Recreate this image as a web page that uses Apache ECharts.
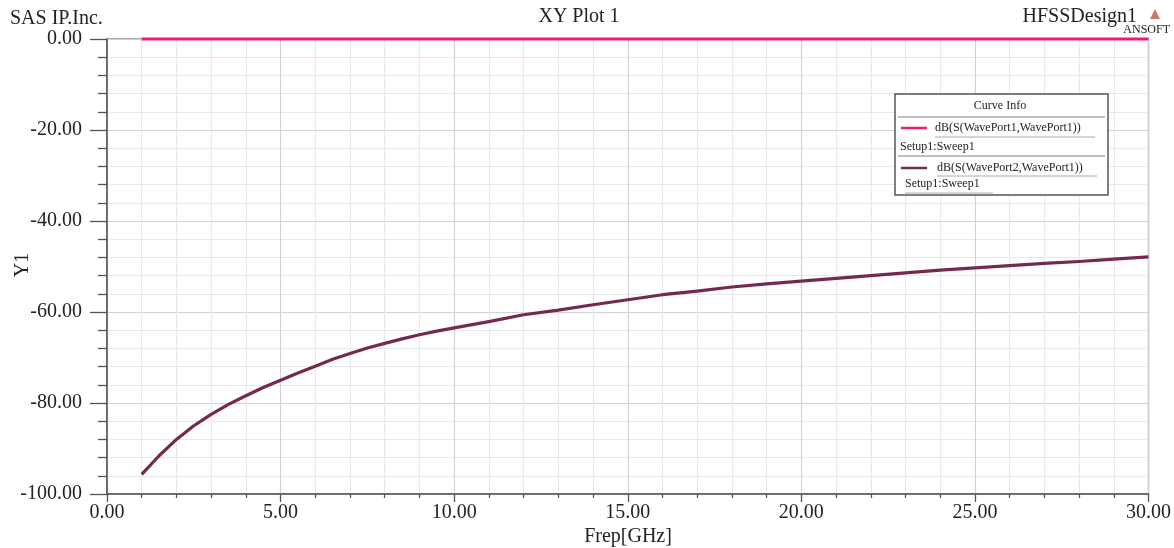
<!DOCTYPE html>
<html>
<head>
<meta charset="utf-8">
<script src="https://cdn.jsdelivr.net/npm/echarts@6/dist/echarts.min.js"></script>
<style>
html,body{margin:0;padding:0;background:#fff;}
#chart{width:1174px;height:548px;}
</style>
</head>
<body>
<div id="chart"></div>
<script>
// ---- data ----
const freqGHz = [1,1.5,2,2.5,3,3.5,4,4.5,5,5.5,6,6.5,7,7.5,8,8.5,9,9.5,10,11,12,13,14,15,16,17,18,19,20,21,22,23,24,25,26,27,28,29,30];
const s11dB = [0,0,0,0,0,0,0,0,0,0,0,0,0,0,0,0,0,0,0,0,0,0,0,0,0,0,0,0,0,0,0,0,0,0,0,0,0,0,0];
const s21dB = [-95.7,-91.6,-88.0,-85.0,-82.5,-80.3,-78.4,-76.6,-75.0,-73.4,-71.9,-70.4,-69.1,-67.9,-66.9,-65.9,-65.0,-64.2,-63.5,-62.1,-60.6,-59.6,-58.4,-57.3,-56.2,-55.4,-54.5,-53.8,-53.2,-52.6,-52.0,-51.4,-50.8,-50.3,-49.8,-49.3,-48.9,-48.4,-47.9];
const seriesNames = ['dB(S(WavePort1,WavePort1))','dB(S(WavePort2,WavePort1))'];
const setupLabel = 'Setup1:Sweep1';
const xTicks = {min:0, max:30, interval:5};
const yTicks = {min:-100, max:0, interval:20};

const C11 = '#ec1c72';
const C21 = '#75294f';
const serif = '"Liberation Serif","Times New Roman",serif';

const chart = echarts.init(document.getElementById('chart'));
const pairs = (xs, ys) => xs.map((x,i)=>[x, ys[i]]);

chart.setOption({
  backgroundColor:'#fff',
  animation:false,
  grid:{left:107, right:25, top:39, bottom:54, show:true, borderColor:'#555', borderWidth:1.2, backgroundColor:'transparent'},
  xAxis:{
    type:'value', min:xTicks.min, max:xTicks.max, interval:xTicks.interval,
    axisLine:{show:true, onZero:false, lineStyle:{color:'#555', width:1.5}},
    axisTick:{show:true, length:8, lineStyle:{color:'#555', width:1.3}},
    minorTick:{show:true, splitNumber:5, length:4, lineStyle:{color:'#555', width:1.3}},
    splitLine:{show:true, lineStyle:{color:'#d2d2d2', width:1.2}},
    minorSplitLine:{show:true, lineStyle:{color:'#e8e8e8', width:1}},
    axisLabel:{formatter:v=>v.toFixed(2), fontFamily:serif, fontSize:20, color:'#222', margin:9}
  },
  yAxis:{
    type:'value', min:yTicks.min, max:yTicks.max, interval:yTicks.interval,
    axisLine:{show:true, onZero:false, lineStyle:{color:'#555', width:1.5}},
    axisTick:{show:true, length:17, lineStyle:{color:'#555', width:1.3}},
    minorTick:{show:true, splitNumber:5, length:9, lineStyle:{color:'#555', width:1.3}},
    splitLine:{show:true, lineStyle:{color:'#d2d2d2', width:1.2}},
    minorSplitLine:{show:true, lineStyle:{color:'#e8e8e8', width:1}},
    axisLabel:{formatter:v=>v.toFixed(2), fontFamily:serif, fontSize:20, color:'#222', margin:25}
  },
  series:[
    {name:seriesNames[0], type:'line', data:pairs(freqGHz, s11dB), showSymbol:false, clip:false,
     lineStyle:{color:C11, width:3.2}, itemStyle:{color:C11}, z:5},
    {name:seriesNames[1], type:'line', data:pairs(freqGHz, s21dB), showSymbol:false, smooth:false,
     lineStyle:{color:C21, width:3.2, join:'round'}, itemStyle:{color:C21}, z:4}
  ],
  graphic:[
    {type:'text', left:10, top:9, style:{text:'SAS IP.Inc.', font:'20px '+serif, fill:'#222'}},
    {type:'text', x:579, y:17, style:{text:'XY Plot 1', font:'20px '+serif, fill:'#222', align:'center', verticalAlign:'middle'}},
    {type:'text', x:1137, y:17, style:{text:'HFSSDesign1', font:'20px '+serif, fill:'#222', align:'right', verticalAlign:'middle'}},
    {type:'text', x:1170, y:30, style:{text:'ANSOFT', font:'12px '+serif, fill:'#222', align:'right', verticalAlign:'middle'}},
    {type:'polygon', shape:{points:[[1155,9],[1150,19],[1160,19]]}, style:{fill:'#c8786f'}},
    {type:'text', x:628, y:537, style:{text:'Frep[GHz]', font:'20px '+serif, fill:'#222', align:'center', verticalAlign:'middle'}},
    {type:'text', x:23, y:265, rotation:Math.PI/2, style:{text:'Y1', font:'20px '+serif, fill:'#222', align:'center', verticalAlign:'middle'}},
    // legend box
    {type:'rect', shape:{x:895, y:94, width:213, height:101}, style:{fill:'#fff', stroke:'#555', lineWidth:1.5}, z:10},
    {type:'text', x:1000, y:106, style:{text:'Curve Info', font:'12px '+serif, fill:'#222', align:'center', verticalAlign:'middle'}, z:11},
    {type:'line', shape:{x1:898, y1:117, x2:1105, y2:117}, style:{stroke:'#aaa', lineWidth:1.5}, z:11},
    {type:'line', shape:{x1:901, y1:128, x2:927, y2:128}, style:{stroke:C11, lineWidth:2.5}, z:11},
    {type:'text', x:935, y:128, style:{text:seriesNames[0], font:'12px '+serif, fill:'#222', verticalAlign:'middle'}, z:11},
    {type:'line', shape:{x1:935, y1:137, x2:1095, y2:137}, style:{stroke:'#aaa', lineWidth:1}, z:11},
    {type:'text', x:900, y:147, style:{text:setupLabel, font:'12px '+serif, fill:'#222', verticalAlign:'middle'}, z:11},
    {type:'line', shape:{x1:898, y1:156, x2:1105, y2:156}, style:{stroke:'#aaa', lineWidth:1.5}, z:11},
    {type:'line', shape:{x1:901, y1:168, x2:927, y2:168}, style:{stroke:C21, lineWidth:2.5}, z:11},
    {type:'text', x:937, y:168, style:{text:seriesNames[1], font:'12px '+serif, fill:'#222', verticalAlign:'middle'}, z:11},
    {type:'line', shape:{x1:937, y1:176, x2:1097, y2:176}, style:{stroke:'#aaa', lineWidth:1}, z:11},
    {type:'text', x:905, y:184, style:{text:setupLabel, font:'12px '+serif, fill:'#222', verticalAlign:'middle'}, z:11},
    {type:'line', shape:{x1:905, y1:193, x2:993, y2:193}, style:{stroke:'#aaa', lineWidth:1}, z:11}
  ]
});
</script>
</body>
</html>
